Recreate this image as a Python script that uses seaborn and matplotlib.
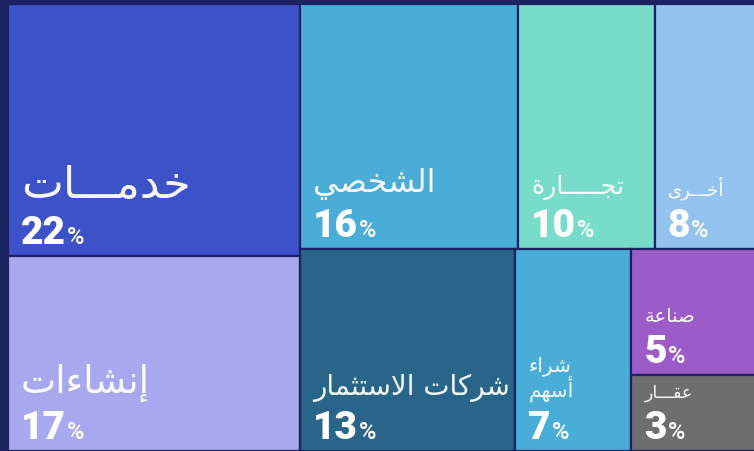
import unicodedata
import matplotlib
matplotlib.use("Agg")
import matplotlib.pyplot as plt
from matplotlib.patches import Rectangle
import seaborn as sns

# treemap data (percent share)
labels = ['خدمـــات', 'إنشاءات', 'الشخصي', 'تجـــــارة', 'أخـــرى',
          'شركات الاستثمار', 'شراء\nأسهم', 'صناعة', 'عقـــار']
values = [22, 17, 16, 10, 8, 13, 7, 5, 3]
colors = ['#3d52c8', '#a8a8ee', '#4aadd8', '#78dccb', '#94c2ee',
          '#286589', '#4aadd8', '#9b5cc8', '#6e6e6e']
label_sizes = [32, 27, 23, 18, 13, 20, 14.5, 14, 12.5]

# nesting of the tiles: 'h' splits left-right, 'v' splits top-bottom
layout = ('h', [('v', [0, 1]),
                ('v', [('h', [2, 3, 4]),
                       ('h', [5, 6, ('v', [7, 8])])])])

bg = '#1b2362'


# --- minimal arabic shaping (matplotlib has no complex text layout) ---
forms = {}
for cp in list(range(0xFE70, 0xFF00)) + list(range(0xFB50, 0xFE00)):
    d = unicodedata.decomposition(chr(cp)).split()
    if len(d) >= 2 and d[0] in ('<isolated>', '<final>', '<initial>', '<medial>'):
        key = ''.join(chr(int(c, 16)) for c in d[1:])
        forms.setdefault(key, {}).setdefault(d[0][1:-1], chr(cp))
TATWEEL = '\u0640'


def dual(ch):
    return ch == TATWEEL or 'initial' in forms.get(ch, {})


def joins(ch):
    return ch == TATWEEL or 'final' in forms.get(ch, {})


def shape(text):
    out_lines = []
    for line in text.split('\n'):
        units = []
        i = 0
        while i < len(line):
            pair = line[i:i + 2]
            if len(pair) == 2 and pair[0] == '\u0644' and pair[1] in '\u0627\u0623\u0625\u0622' \
                    and pair in forms:
                units.append(pair)
                i += 2
            else:
                units.append(line[i])
                i += 1
        res = []
        for k, u in enumerate(units):
            first = u[0]
            prev = units[k - 1] if k > 0 else None
            nxt = units[k + 1] if k + 1 < len(units) else None
            jp = prev is not None and dual(prev[-1]) and joins(first)
            lig = len(u) == 2
            jn = (not lig) and nxt is not None and dual(first) and joins(nxt[0])
            if u == TATWEEL or u not in forms:
                res.append(u)
                continue
            f = forms[u]
            if jp and jn:
                res.append(f.get('medial', u))
            elif jp:
                res.append(f.get('final', u))
            elif jn:
                res.append(f.get('initial', u))
            else:
                res.append(f.get('isolated', u))
        out_lines.append(''.join(res)[::-1])
    return '\n'.join(out_lines)


def node_total(node):
    if isinstance(node, int):
        return values[node]
    return sum(node_total(k) for k in node[1])


def slice_dice(node, x, y, w, h, rects):
    if isinstance(node, int):
        rects[node] = (x, y, w, h)
        return
    direction, kids = node
    totals = [node_total(k) for k in kids]
    s = sum(totals)
    pos = 0
    for kid, t in zip(kids, totals):
        frac = t / s
        if direction == 'h':
            slice_dice(kid, x + pos * w, y, w * frac, h, rects)
        else:
            slice_dice(kid, x, y + pos * h, w, h * frac, rects)
        pos += frac


rects = {}
slice_dice(layout, 0, 0, 1, 1, rects)

sns.set_theme(style='white')
plt.rcParams['font.family'] = ['DejaVu Sans']
num_font = ['Roboto', 'Lato', 'DejaVu Sans']

W, H = 754, 451
fig = plt.figure(figsize=(W / 100, H / 100), dpi=100, facecolor=bg)
# the treemap runs a little past the right edge of the picture, as in the source
ax = fig.add_axes([8 / W, 0, 756 / W, 447 / H])
ax.set_xlim(0, 1)
ax.set_ylim(1, 0)
ax.axis('off')

for i in range(len(values)):
    x, y, w, h = rects[i]
    ax.add_patch(Rectangle((x, y), w, h, facecolor=colors[i], edgecolor=bg, linewidth=1.6))
    num = ax.annotate(str(values[i]), xy=(x, y + h), xytext=(13, 12),
                      textcoords='offset pixels', ha='left', va='baseline',
                      fontsize=28, fontweight='black', family=num_font,
                      color='white')
    ax.annotate('%', xy=(1, y + h), xycoords=(num, 'data'), xytext=(1, 12),
                textcoords='offset pixels', ha='left', va='baseline',
                fontsize=17, fontweight='medium', family=num_font,
                color='white')
    ax.annotate(shape(labels[i]), xy=(0, 1), xycoords=num, xytext=(0, 8),
                textcoords='offset pixels', ha='left', va='bottom',
                multialignment='left', linespacing=1.0,
                fontsize=label_sizes[i], color='white', alpha=0.95)

fig.savefig('out.png', dpi=100, facecolor=bg)
